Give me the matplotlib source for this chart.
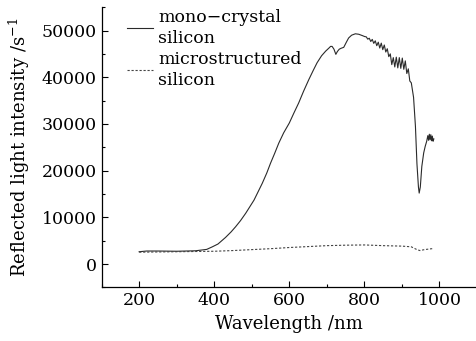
import matplotlib
matplotlib.use("Agg")
import matplotlib.pyplot as plt
from matplotlib.ticker import MultipleLocator

plt.rcParams['font.family'] = 'DejaVu Serif'
plt.rcParams['mathtext.fontset'] = 'dejavuserif'

# mono-crystal silicon spectrum
mono_wl = [200, 220, 250, 300, 350, 360, 380, 395, 410, 430, 445, 457, 470, 484, 495, 506,
           517, 528, 540, 550, 561, 572, 585, 600, 612, 625, 638, 652, 664, 674, 686, 697,
           705, 710, 714, 719, 724, 728, 733, 738, 745, 752, 758, 766, 776, 785, 795, 801,
           805, 809, 813, 817, 821, 825, 829, 833, 837, 841, 845, 849, 853, 857, 861, 865,
           869, 873, 877, 881, 885, 889, 893, 897, 901, 905, 909, 913, 917, 921, 925, 931,
           936, 940, 944, 946, 949, 953, 958, 962, 966, 969, 971, 973, 975, 977, 979, 981,
           983, 985]
mono_int = [2650, 2800, 2800, 2750, 2850, 2950, 3150, 3700, 4300, 5700, 6900, 8000, 9300, 10900, 12300, 13700,
            15500, 17300, 19500, 21600, 23700, 25900, 28100, 30200, 32300, 34500, 37000, 39500, 41500, 43100, 44600, 45600,
            46200, 46600, 46600, 46000, 44900, 45500, 46000, 46200, 46400, 47500, 48400, 49000, 49300, 49200, 48900, 48700,
            48650, 48150, 48350, 47650, 48100, 47250, 47800, 46750, 47500, 46250, 47300, 45900, 46900, 45400, 46100, 44400,
            45000, 42700, 44200, 42200, 44300, 42000, 44200, 41900, 44100, 41700, 43500, 40800, 41800, 39200, 38800, 35700,
            29500, 21500, 16500, 15200, 16500, 20900, 23800, 25200, 26300, 27500, 26500, 27800, 26600, 27700, 26400, 27400,
            26300, 26800]

# microstructured silicon spectrum
micro_wl = [200, 250, 300, 350, 400, 450, 500, 550, 600, 650, 700, 750, 800, 850, 900, 925, 940, 948, 960, 985]
micro_int = [2550, 2600, 2650, 2700, 2750, 2900, 3100, 3300, 3550, 3750, 3950, 4050, 4100, 3950, 3850, 3700, 3100, 2900, 3100, 3350]

fig = plt.figure(figsize=(4.77, 3.41), dpi=100)
ax = fig.add_axes([0.213, 0.157, 0.787, 0.822])

ax.plot(mono_wl, mono_int, color='#2a2a2a', lw=0.8, label='mono\u2212crystal\nsilicon')
ax.plot(micro_wl, micro_int, color='#444444', lw=0.8, linestyle=(0, (2, 1.6)),
        label='microstructured\nsilicon')

ax.set_xlim(100, 1100)
ax.set_ylim(-5000, 55000)
ax.xaxis.set_major_locator(MultipleLocator(200))
ax.xaxis.set_minor_locator(MultipleLocator(100))
ax.yaxis.set_major_locator(MultipleLocator(10000))
ax.yaxis.set_minor_locator(MultipleLocator(5000))
ax.set_xticks([200, 400, 600, 800, 1000])
ax.tick_params(which='both', direction='in', labelsize=12.5, width=0.8)
ax.tick_params(which='major', length=4)
ax.tick_params(which='minor', length=2.5)

for s in ['top', 'right']:
    ax.spines[s].set_visible(False)
for s in ['left', 'bottom']:
    ax.spines[s].set_linewidth(0.9)

ax.set_xlabel('Wavelength /nm', fontsize=13, labelpad=4)
ax.set_ylabel('Reflected light intensity /s$^{-1}$', fontsize=13, labelpad=7)

leg = ax.legend(loc='upper left', frameon=False, fontsize=12.5, handlelength=1.5,
                handletextpad=0.3, borderaxespad=0.1, labelspacing=0.25,
                bbox_to_anchor=(0.045, 1.025))
for t in leg.get_texts():
    t.set_linespacing(1.3)

fig.savefig('out.png', dpi=100)
